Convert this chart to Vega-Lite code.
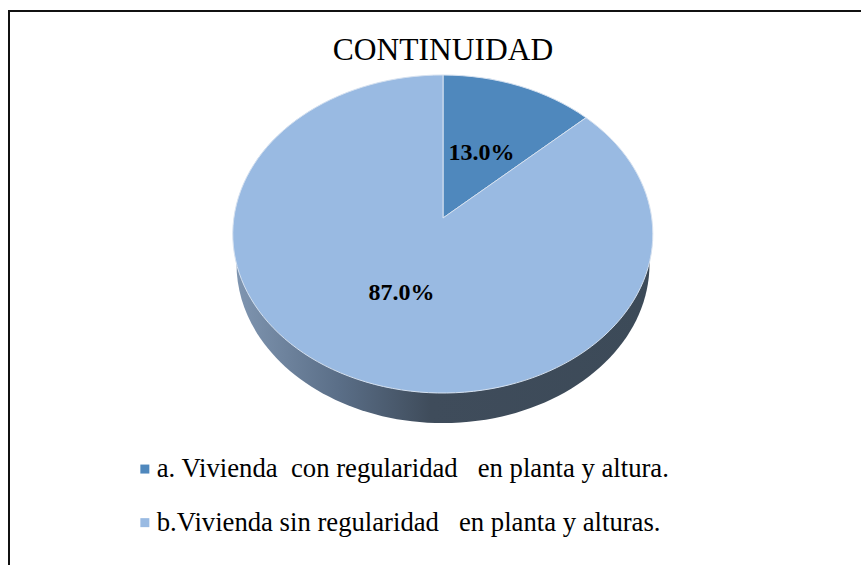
{"$schema":"https://vega.github.io/schema/vega-lite/v6.json","autosize":"none","padding":{"left":9,"top":11,"right":0,"bottom":0},"width":868,"height":572,"background":"white","view":{"stroke":"#111111","strokeWidth":2,"fill":"white"},"title":{"text":"CONTINUIDAD","font":"Liberation Serif","fontSize":31.5,"fontWeight":"normal","color":"#000000","anchor":"middle","baseline":"alphabetic","offset":-80},"data":{"values":[{"category":"a. Vivienda \u00a0con regularidad \u00a0 en planta y altura.","value":0.13},{"category":"b.Vivienda sin regularidad \u00a0 en planta y alturas.","value":0.87}]},"layer":[{"transform":[{"filter":"datum.value > 0.5"}],"mark":{"type":"point","filled":true,"size":40000,"opacity":1,"shape":"M-2.065,-0.33 A2.065,1.59 0 1 0 2.065,-0.33 A2.065,1.59 0 1 0 -2.065,-0.33 Z","fill":{"gradient":"linear","x1":0,"y1":0,"x2":1,"y2":0,"stops":[{"offset":0,"color":"#7f95b0"},{"offset":0.25,"color":"#5a6e87"},{"offset":0.47,"color":"#3f4c5b"},{"offset":1,"color":"#3c4a58"}]}}},{"mark":{"type":"point","filled":true,"size":40000,"opacity":1,"stroke":"#d5e1f0","strokeWidth":1},"encoding":{"fill":{"field":"value","type":"nominal","scale":{"domain":[0.13,0.87],"range":["#4f88bd","#99bae2"]},"legend":null},"shape":{"field":"value","type":"nominal","scale":{"domain":[0.13,0.87],"range":["M0,-0.79 L0,-2.22 A2.1,1.59 0 0 1 1.43,-1.793 Z","M0,-0.79 L1.43,-1.793 A2.1,1.59 0 1 1 0,-2.22 Z"]},"legend":null}}},{"mark":{"type":"point","filled":true,"size":0,"opacity":1,"shape":"square"},"encoding":{"color":{"field":"category","type":"nominal","scale":{"domain":["a. Vivienda \u00a0con regularidad \u00a0 en planta y altura.","b.Vivienda sin regularidad \u00a0 en planta y alturas."],"range":["#4f88bd","#99bae2"]},"legend":{"orient":"none","legendX":122.5,"legendY":444.7,"direction":"vertical","columns":1,"title":null,"symbolType":"square","symbolSize":81,"symbolStrokeWidth":0,"labelFont":"Liberation Serif","labelFontSize":26.7,"labelColor":"#000000","labelLimit":800,"rowPadding":25.6,"labelOffset":-1.5}}}},{"transform":[{"filter":"datum.value < 0.5"}],"mark":{"type":"text","font":"Liberation Serif","fontSize":24,"fontWeight":"bold","color":"#000000","baseline":"middle","dx":38.5,"dy":-144},"encoding":{"text":{"field":"value","type":"quantitative","format":".1%"}}},{"transform":[{"filter":"datum.value > 0.5"}],"mark":{"type":"text","font":"Liberation Serif","fontSize":24,"fontWeight":"bold","color":"#000000","baseline":"middle","dx":-41.5,"dy":-4},"encoding":{"text":{"field":"value","type":"quantitative","format":".1%"}}}]}
